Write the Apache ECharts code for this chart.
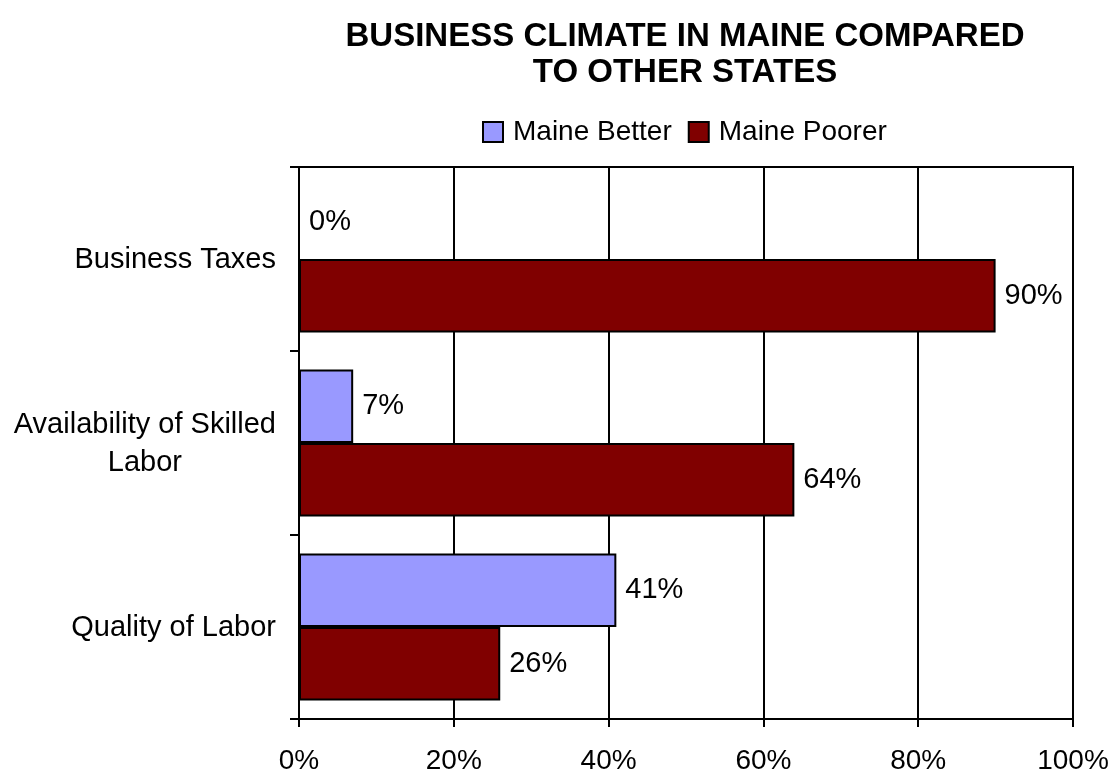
<!DOCTYPE html>
<html>
<head>
<meta charset="utf-8">
<script src="https://cdn.jsdelivr.net/npm/echarts@6/dist/echarts.min.js"></script>
<style>
  html, body { margin: 0; padding: 0; background: #fff; }
  #chart { width: 1114px; height: 774px; }
</style>
</head>
<body>
<div id="chart"></div>
<script>
// Survey results: share of respondents rating Maine better / poorer
const categories = ['Business Taxes', 'Availability of Skilled\nLabor', 'Quality of Labor'];
const seriesNames = ['Maine Better', 'Maine Poorer'];
const betterValues = [0, 7, 41];
const poorerValues = [90, 64, 26];
const xTicks = [0, 20, 40, 60, 80, 100];

const FONT = '"Liberation Sans", Arial, sans-serif';
const chart = echarts.init(document.getElementById('chart'), null, { renderer: 'canvas' });

const labelStyle = {
  show: true,
  position: 'right',
  distance: 9,
  formatter: p => p.value + '%',
  fontFamily: FONT,
  fontSize: 29,
  color: '#000'
};

chart.setOption({
  animation: false,
  backgroundColor: '#fff',
  title: {
    text: 'BUSINESS CLIMATE IN MAINE COMPARED\nTO OTHER STATES',
    left: 680,
    textAlign: 'center',
    top: 14,
    textStyle: {
      fontFamily: FONT,
      fontSize: 33,
      fontWeight: 'bold',
      color: '#000',
      lineHeight: 36,
      align: 'center'
    }
  },
  legend: {
    data: seriesNames,
    top: 113,
    left: 477,
    itemWidth: 20,
    itemHeight: 20,
    itemGap: 16,
    icon: 'rect',
    textStyle: { fontFamily: FONT, fontSize: 28, color: '#000', padding: [0, 0, 0, 5] }
  },
  grid: {
    left: 299,
    right: 41,
    top: 167,
    bottom: 55,
    outerBoundsMode: 'none',
    show: true,
    borderColor: '#000',
    borderWidth: 2
  },
  xAxis: {
    type: 'value',
    min: xTicks[0],
    max: xTicks[xTicks.length - 1],
    interval: 20,
    axisLine: { show: true, lineStyle: { color: '#000', width: 2 } },
    axisTick: { show: true, length: 8, lineStyle: { color: '#000', width: 2 } },
    splitLine: { show: true, lineStyle: { color: '#000', width: 2 } },
    axisLabel: {
      formatter: '{value}%',
      margin: 28,
      fontFamily: FONT,
      fontSize: 28,
      color: '#000'
    }
  },
  yAxis: {
    type: 'category',
    data: categories,
    inverse: true,
    axisLine: { show: true, lineStyle: { color: '#000', width: 2 } },
    axisTick: { show: true, length: 9, lineStyle: { color: '#000', width: 2 } },
    splitLine: { show: false },
    axisLabel: {
      margin: 23,
      fontFamily: FONT,
      fontSize: 29,
      color: '#000',
      lineHeight: 38,
      formatter: v => '{c|' + v + '}',
      rich: {
        c: { align: 'center', fontFamily: FONT, fontSize: 29, color: '#000', lineHeight: 38, padding: [2, 0, 0, 0] }
      }
    }
  },
  series: [
    {
      name: seriesNames[0],
      type: 'bar',
      data: betterValues,
      barGap: '0%',
      barCategoryGap: '20%',
      itemStyle: { color: '#9999FF', borderColor: '#000', borderWidth: 2 },
      label: labelStyle
    },
    {
      name: seriesNames[1],
      type: 'bar',
      data: poorerValues,
      barGap: '0%',
      barCategoryGap: '20%',
      itemStyle: { color: '#800000', borderColor: '#000', borderWidth: 2 },
      label: labelStyle
    }
  ]
});
</script>
</body>
</html>
